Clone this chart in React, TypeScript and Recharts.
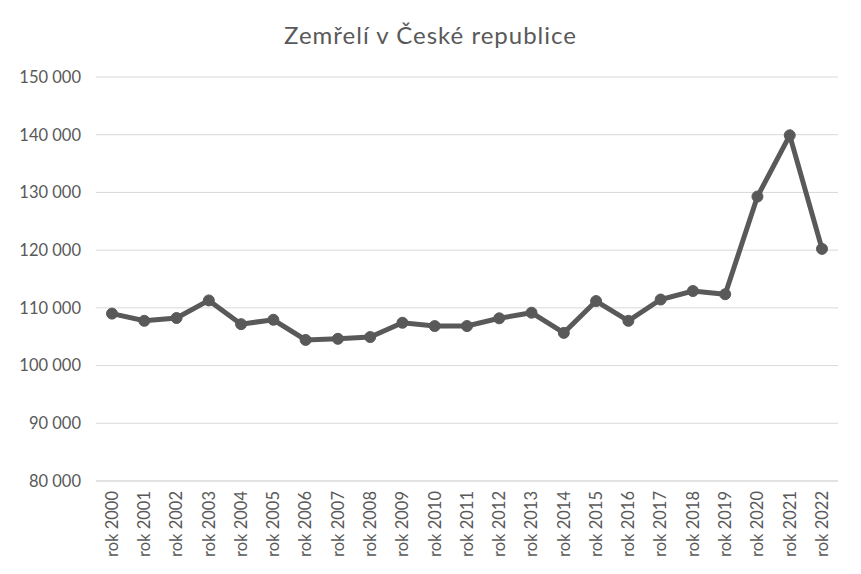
import React from "react";
import { LineChart, Line, XAxis, YAxis, CartesianGrid } from "recharts";

const years = [
  "rok 2000", "rok 2001", "rok 2002", "rok 2003", "rok 2004", "rok 2005", "rok 2006", "rok 2007",
  "rok 2008", "rok 2009", "rok 2010", "rok 2011", "rok 2012", "rok 2013", "rok 2014", "rok 2015",
  "rok 2016", "rok 2017", "rok 2018", "rok 2019", "rok 2020", "rok 2021", "rok 2022",
];
const deaths = [
  109001, 107755, 108243, 111288, 107177, 107938, 104441, 104636,
  104948, 107421, 106844, 106848, 108189, 109160, 105665, 111173,
  107750, 111443, 112920, 112362, 129289, 139891, 120219,
];
const yTicks = [80000, 90000, 100000, 110000, 120000, 130000, 140000, 150000];

const data = years.map((y, i) => ({ year: y, value: deaths[i] }));

const FONT = "Lato, 'Open Sans', sans-serif";
const GREY = "#595959";

const fmt = (v: number) => {
  const s = String(v);
  return s.replace(/\B(?=(\d{3})+(?!\d))/g, " ");
};

const XTick = (props: any) => {
  const { x, y, payload } = props;
  return (
    <g transform={`translate(${x},${y})`}>
      <text
        transform="rotate(-90)"
        textAnchor="end"
        dy="0.35em"
        fill={GREY}
        fontSize={16.5}
        fontFamily={FONT}
      >
        {payload.value}
      </text>
    </g>
  );
};

export default function App() {
  return (
    <div style={{ position: "absolute", left: 0, top: 0, width: 861, height: 574, background: "#fff" }}>
      <div
        style={{
          position: "absolute",
          top: 20,
          left: 0,
          width: 861,
          textAlign: "center",
          fontFamily: FONT,
          fontSize: 24,
          letterSpacing: 1,
          lineHeight: "29px",
          color: GREY,
        }}
      >
        Zemřelí v České republice
      </div>
      <LineChart
        width={861}
        height={574}
        data={data}
        margin={{ top: 77, right: 23, left: 0, bottom: 0 }}
      >
        <CartesianGrid vertical={false} stroke="#d9d9d9" strokeWidth={1} />
        <XAxis
          dataKey="year"
          interval={0}
          height={93}
          tickLine={false}
          axisLine={{ stroke: "#d9d9d9" }}
          padding={{ left: 16, right: 16 }}
          tick={<XTick />}
          tickMargin={4}
        />
        <YAxis
          width={96}
          domain={[80000, 150000]}
          ticks={yTicks}
          tickFormatter={fmt}
          tickLine={false}
          axisLine={false}
          tickMargin={9}
          tick={{ fill: GREY, fontSize: 16.5, fontFamily: FONT }}
        />
        <Line
          type="linear"
          dataKey="value"
          stroke={GREY}
          strokeWidth={5}
          dot={{ r: 5.5, fill: GREY, stroke: GREY, strokeWidth: 1 }}
          isAnimationActive={false}
        />
      </LineChart>
    </div>
  );
}
